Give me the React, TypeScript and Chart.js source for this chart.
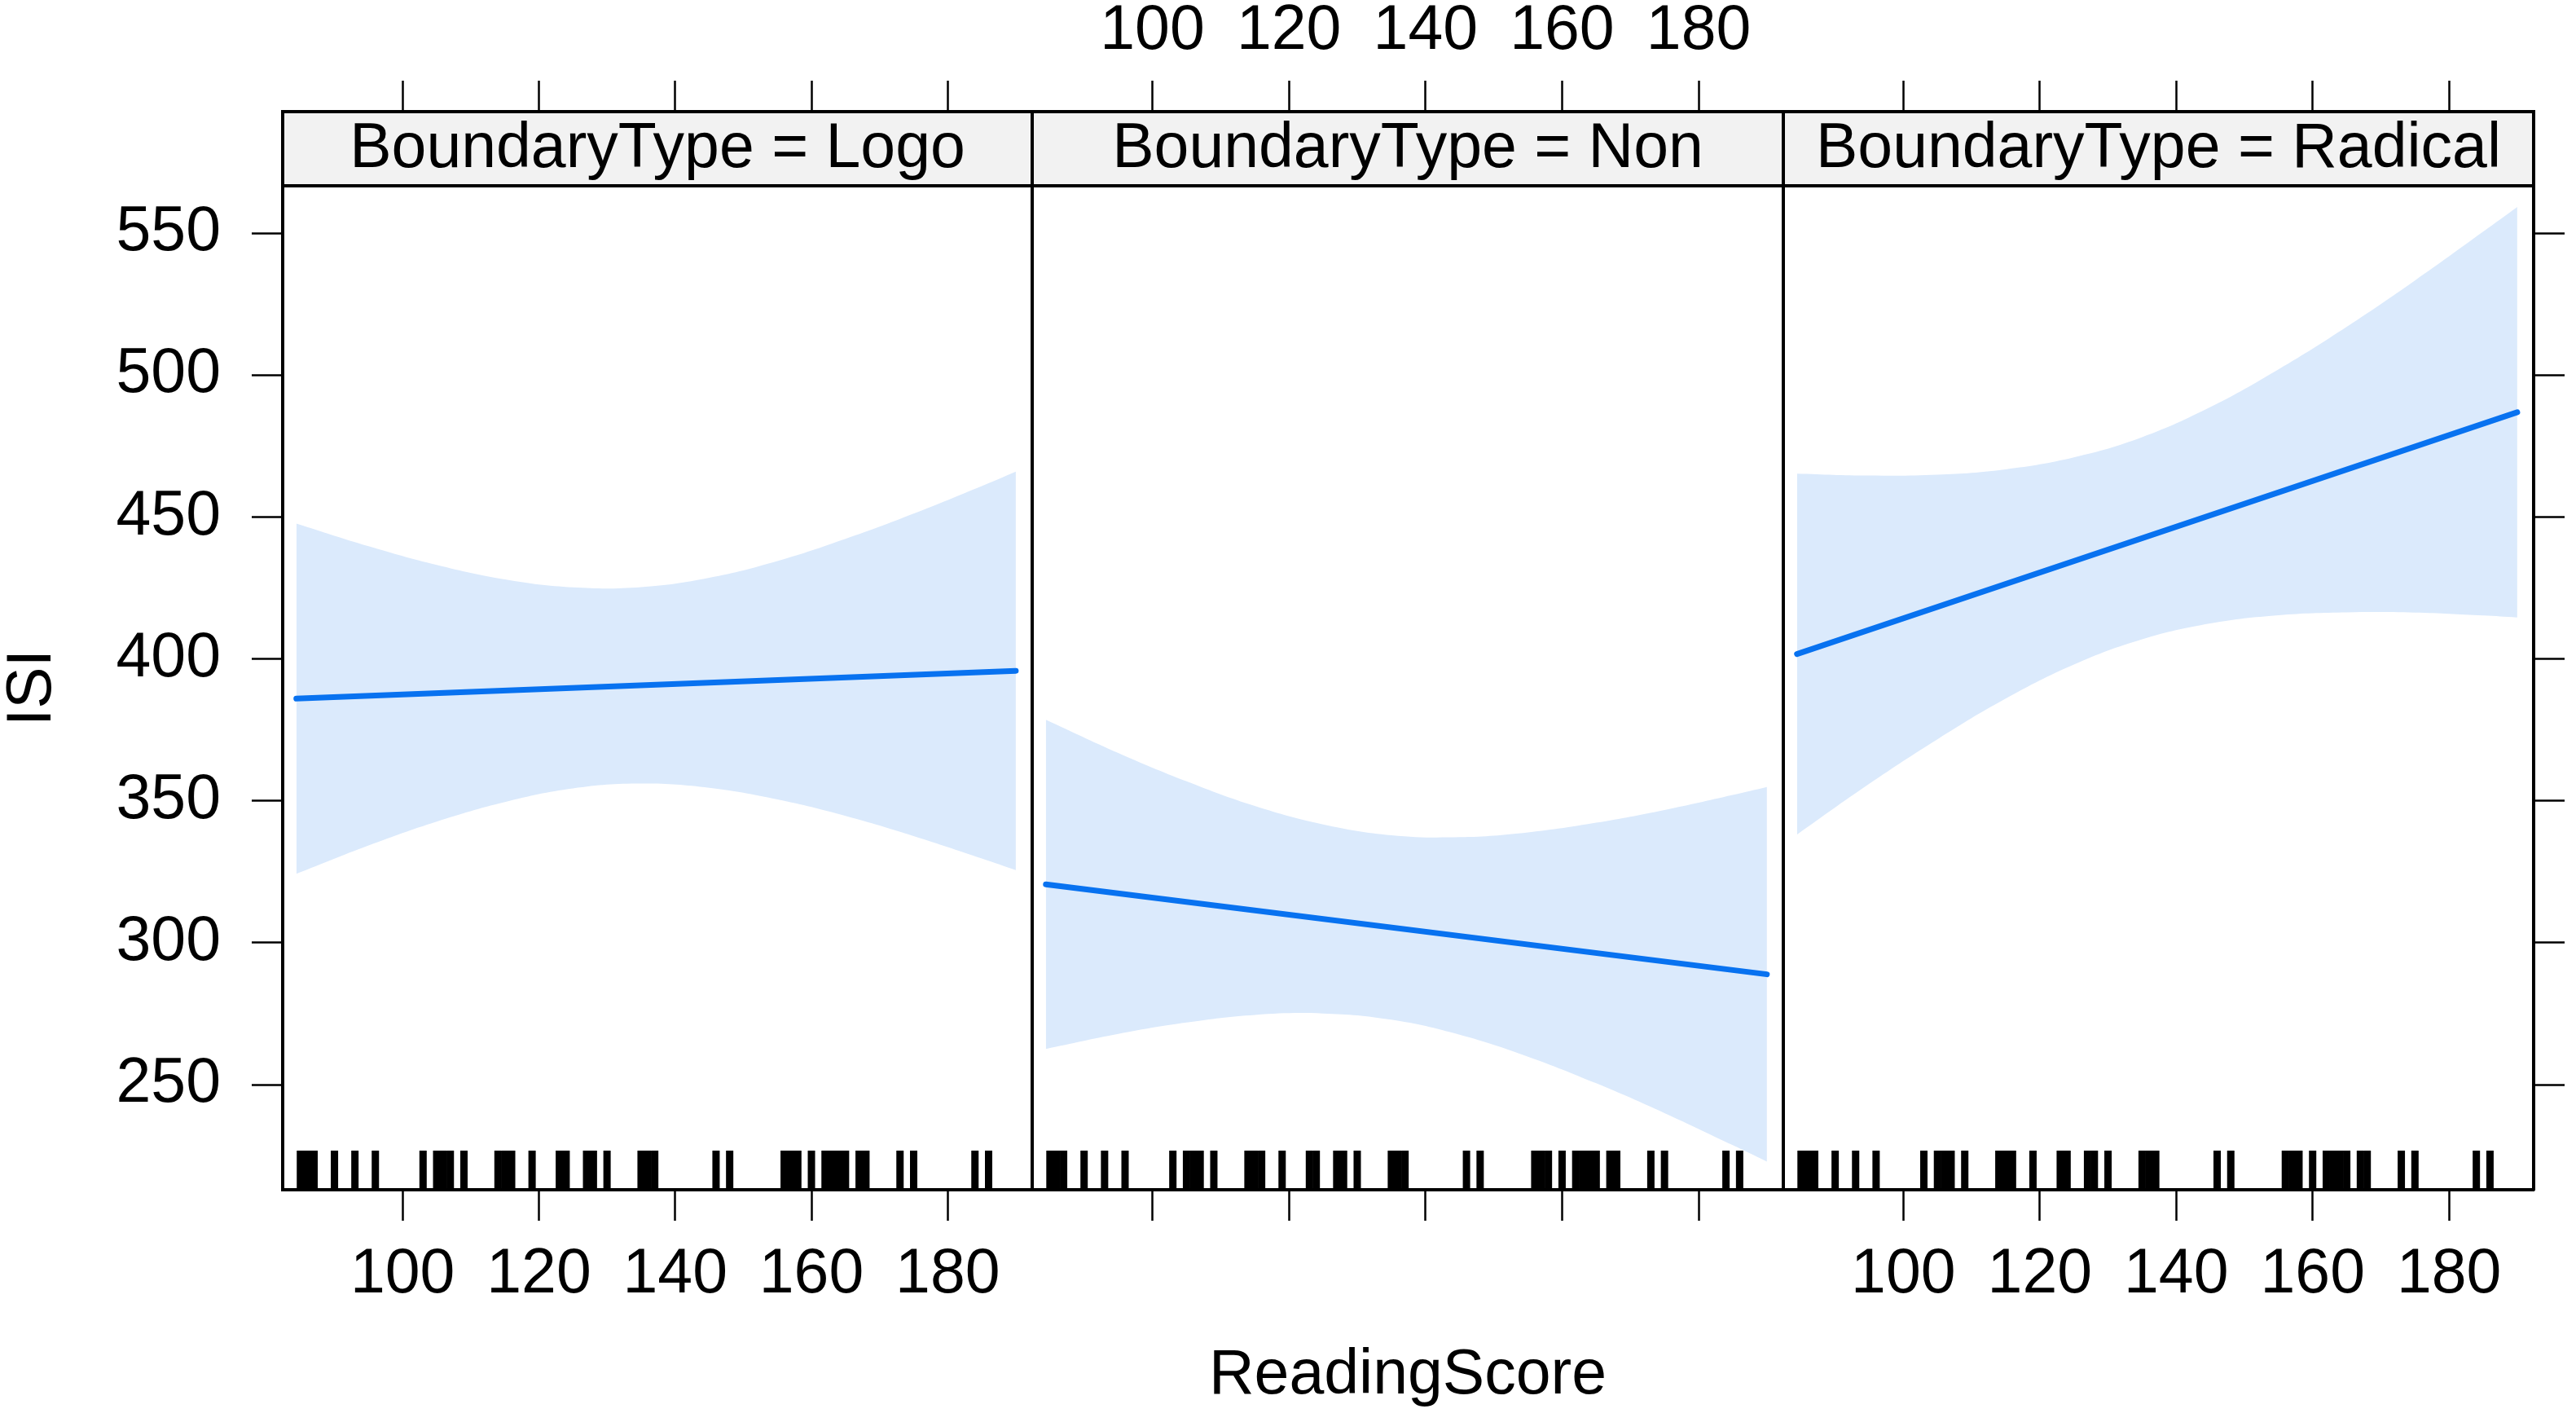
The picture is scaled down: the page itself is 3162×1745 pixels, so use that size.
import { useEffect, useRef } from 'react'
import { Chart, registerables } from 'chart.js'

Chart.register(...registerables)

const bandX = [84.4, 95, 105, 115, 125, 135, 145, 155, 165, 175, 185, 190]
const fitX = [84.4, 190]

const logoFit = [386.0, 395.8]
const logoUpper = [447.7, 439.7, 433.1, 428.0, 425.2, 425.3, 428.6, 434.5, 442.3, 451.2, 460.9, 466.0]
const logoLower = [324.3, 334.3, 342.7, 349.6, 354.4, 356.1, 354.6, 350.5, 344.7, 337.6, 329.7, 325.6]

const nonFit = [320.6, 288.9]
const nonUpper = [378.6, 366.9, 356.9, 348.2, 341.7, 337.9, 337.2, 338.9, 342.3, 346.8, 352.1, 354.9]
const nonLower = [262.6, 267.9, 271.9, 274.6, 275.1, 272.9, 267.6, 259.9, 250.5, 240.0, 228.7, 222.9]

const radicalFit = [401.7, 486.9]
const radicalUpper = [465.3, 464.6, 464.9, 466.8, 471.0, 478.1, 488.7, 502.0, 517.0, 533.3, 550.5, 559.2]
const radicalLower = [338.1, 356.0, 371.7, 386.0, 398.0, 406.9, 412.5, 415.4, 416.4, 416.3, 415.3, 414.6]

// observed reading scores (rug)
const rugScores = [
  85, 86, 87, 90, 93, 96, 103, 105, 106, 107, 109, 114, 115, 116, 119, 123, 124, 127, 128, 130,
  135, 136, 137, 146, 148, 156, 157, 158, 160, 162, 163, 164, 165, 167, 168, 173, 175, 184, 186,
]

const boundaryTypes = ['Logo', 'Non', 'Radical']
const xTicks = [100, 120, 140, 160, 180]
const yTicks = [250, 300, 350, 400, 450, 500, 550]

const X_MIN = 82.4
const X_MAX = 192.4
const Y_MIN = 213
const Y_MAX = 592.8 // top of strip; panel itself ends near 566.6
const RUG_Y = 219.9

const FONT = '"Liberation Sans", Arial, Helvetica, sans-serif'
const FONT_SIZE = 77
const STRIP_H = 91
const LINE_BLUE = '#0872f0'
const BAND_BLUE = '#dbeafc'
const STRIP_BG = '#f2f2f2'

const H = 1745
const frames = [
  { left: 0, width: 1287, padL: 0, padR: 20 },
  { left: 1247, width: 962, padL: 20, padR: 20 },
  { left: 2169, width: 993, padL: 20, padR: 0 },
]

const tickFont = { family: FONT, size: FONT_SIZE }
const axisGrid = (ticks: boolean) => ({
  drawOnChartArea: false,
  drawTicks: ticks,
  tickLength: 38,
  tickColor: '#000',
  tickWidth: 2.5,
})
const axisBorder = { display: true, color: '#000', width: 4, z: 1 }

function Panel({
  index,
  fit,
  upper,
  lower,
}: {
  index: number
  fit: number[]
  upper: number[]
  lower: number[]
}) {
  const canvasRef = useRef<HTMLCanvasElement | null>(null)
  const chartRef = useRef<Chart | null>(null)
  const frame = frames[index]

  useEffect(() => {
    const ctx = canvasRef.current?.getContext('2d')
    if (!ctx) return
    const first = index === 0
    const middle = index === 1
    const last = index === 2

    const stripPlugin = {
      id: 'strip',
      afterDatasetsDraw(chart: Chart) {
        const { ctx: c, chartArea: a } = chart
        c.save()
        c.fillStyle = STRIP_BG
        c.fillRect(a.left, a.top, a.right - a.left, STRIP_H)
        c.strokeStyle = '#000'
        c.lineWidth = 4
        c.beginPath()
        c.moveTo(a.left, a.top + STRIP_H)
        c.lineTo(a.right, a.top + STRIP_H)
        c.stroke()
        c.fillStyle = '#000'
        c.font = `${FONT_SIZE}px ${FONT}`
        c.textAlign = 'center'
        c.textBaseline = 'middle'
        c.fillText(`BoundaryType = ${boundaryTypes[index]}`, (a.left + a.right) / 2, a.top + STRIP_H / 2 + 1)
        if (first) {
          // y title, centred on the panel below the strip
          c.translate(41, (a.top + STRIP_H + a.bottom) / 2)
          c.rotate(-Math.PI / 2)
          c.fillText('ISI', 0, 0)
        }
        c.restore()
      },
    }

    const setX = (s: any) => {
      s.ticks = xTicks.map((value) => ({ value }))
    }
    const setY = (s: any) => {
      s.ticks = yTicks.map((value) => ({ value }))
    }

    chartRef.current?.destroy()
    chartRef.current = new Chart(ctx, {
      type: 'scatter',
      data: {
        datasets: [
          {
            type: 'line',
            label: 'lower',
            order: 3,
            data: bandX.map((x, k) => ({ x, y: lower[k] })),
            showLine: true,
            borderColor: 'transparent',
            borderWidth: 0,
            pointRadius: 0,
            fill: false,
            tension: 0.4,
          },
          {
            type: 'line',
            label: 'upper',
            order: 2,
            data: bandX.map((x, k) => ({ x, y: upper[k] })),
            showLine: true,
            borderColor: 'transparent',
            borderWidth: 0,
            pointRadius: 0,
            fill: '-1',
            backgroundColor: BAND_BLUE,
            tension: 0.4,
          },
          {
            type: 'line',
            label: 'fit',
            order: 1,
            data: fitX.map((x, k) => ({ x, y: fit[k] })),
            showLine: true,
            borderColor: LINE_BLUE,
            borderWidth: 7,
            borderCapStyle: 'round',
            pointRadius: 0,
            fill: false,
          },
          {
            type: 'scatter',
            label: 'rug',
            order: 0,
            data: rugScores.map((x) => ({ x, y: RUG_Y })),
            pointStyle: 'line',
            pointRotation: 90,
            pointRadius: 24,
            pointBorderWidth: 9,
            borderWidth: 9,
            pointBorderColor: '#000',
            borderColor: '#000',
            pointBackgroundColor: '#000',
          },
        ] as any,
      },
      options: {
        animation: false,
        responsive: true,
        maintainAspectRatio: false,
        events: [],
        layout: { autoPadding: false, padding: { left: frame.padL, right: frame.padR, top: 0, bottom: 0 } },
        plugins: { legend: { display: false }, tooltip: { enabled: false } },
        scales: {
          x: {
            type: 'linear',
            position: 'bottom',
            min: X_MIN,
            max: X_MAX,
            afterBuildTicks: setX,
            afterFit: (s: any) => {
              s.height = 285
            },
            grid: axisGrid(true),
            border: axisBorder,
            ticks: { display: !middle, color: '#000', font: tickFont, padding: 21, maxRotation: 0, autoSkip: false },
            title: {
              display: middle,
              text: 'ReadingScore',
              color: '#000',
              font: tickFont,
              padding: { top: 0, bottom: 10 },
            },
          },
          xTop: {
            type: 'linear',
            position: 'top',
            min: X_MIN,
            max: X_MAX,
            afterBuildTicks: setX,
            afterFit: (s: any) => {
              s.height = 137
            },
            grid: axisGrid(true),
            border: axisBorder,
            ticks: { display: middle, color: '#000', font: tickFont, padding: 14, maxRotation: 0, autoSkip: false },
          },
          y: {
            type: 'linear',
            position: 'left',
            min: Y_MIN,
            max: Y_MAX,
            afterBuildTicks: setY,
            afterFit: (s: any) => {
              s.width = first ? 347 : 0
            },
            grid: axisGrid(first),
            border: axisBorder,
            ticks: { display: first, color: '#000', font: tickFont, padding: 38 },
          },
          yRight: {
            type: 'linear',
            position: 'right',
            min: Y_MIN,
            max: Y_MAX,
            afterBuildTicks: setY,
            afterFit: (s: any) => {
              s.width = last ? 52 : 0
            },
            grid: axisGrid(last),
            border: axisBorder,
            ticks: { display: false },
          },
        },
      } as any,
      plugins: [stripPlugin],
    })

    return () => chartRef.current?.destroy()
  }, [index, fit, upper, lower])

  return (
    <div style={{ position: 'absolute', left: frame.left, top: 0, width: frame.width, height: H }}>
      <canvas ref={canvasRef} />
    </div>
  )
}

export default function App() {
  return (
    <div
      style={{
        position: 'fixed',
        left: 0,
        top: 0,
        width: 3162,
        height: H,
        background: '#fff',
        overflow: 'hidden',
      }}
    >
      <Panel index={0} fit={logoFit} upper={logoUpper} lower={logoLower} />
      <Panel index={1} fit={nonFit} upper={nonUpper} lower={nonLower} />
      <Panel index={2} fit={radicalFit} upper={radicalUpper} lower={radicalLower} />
    </div>
  )
}
